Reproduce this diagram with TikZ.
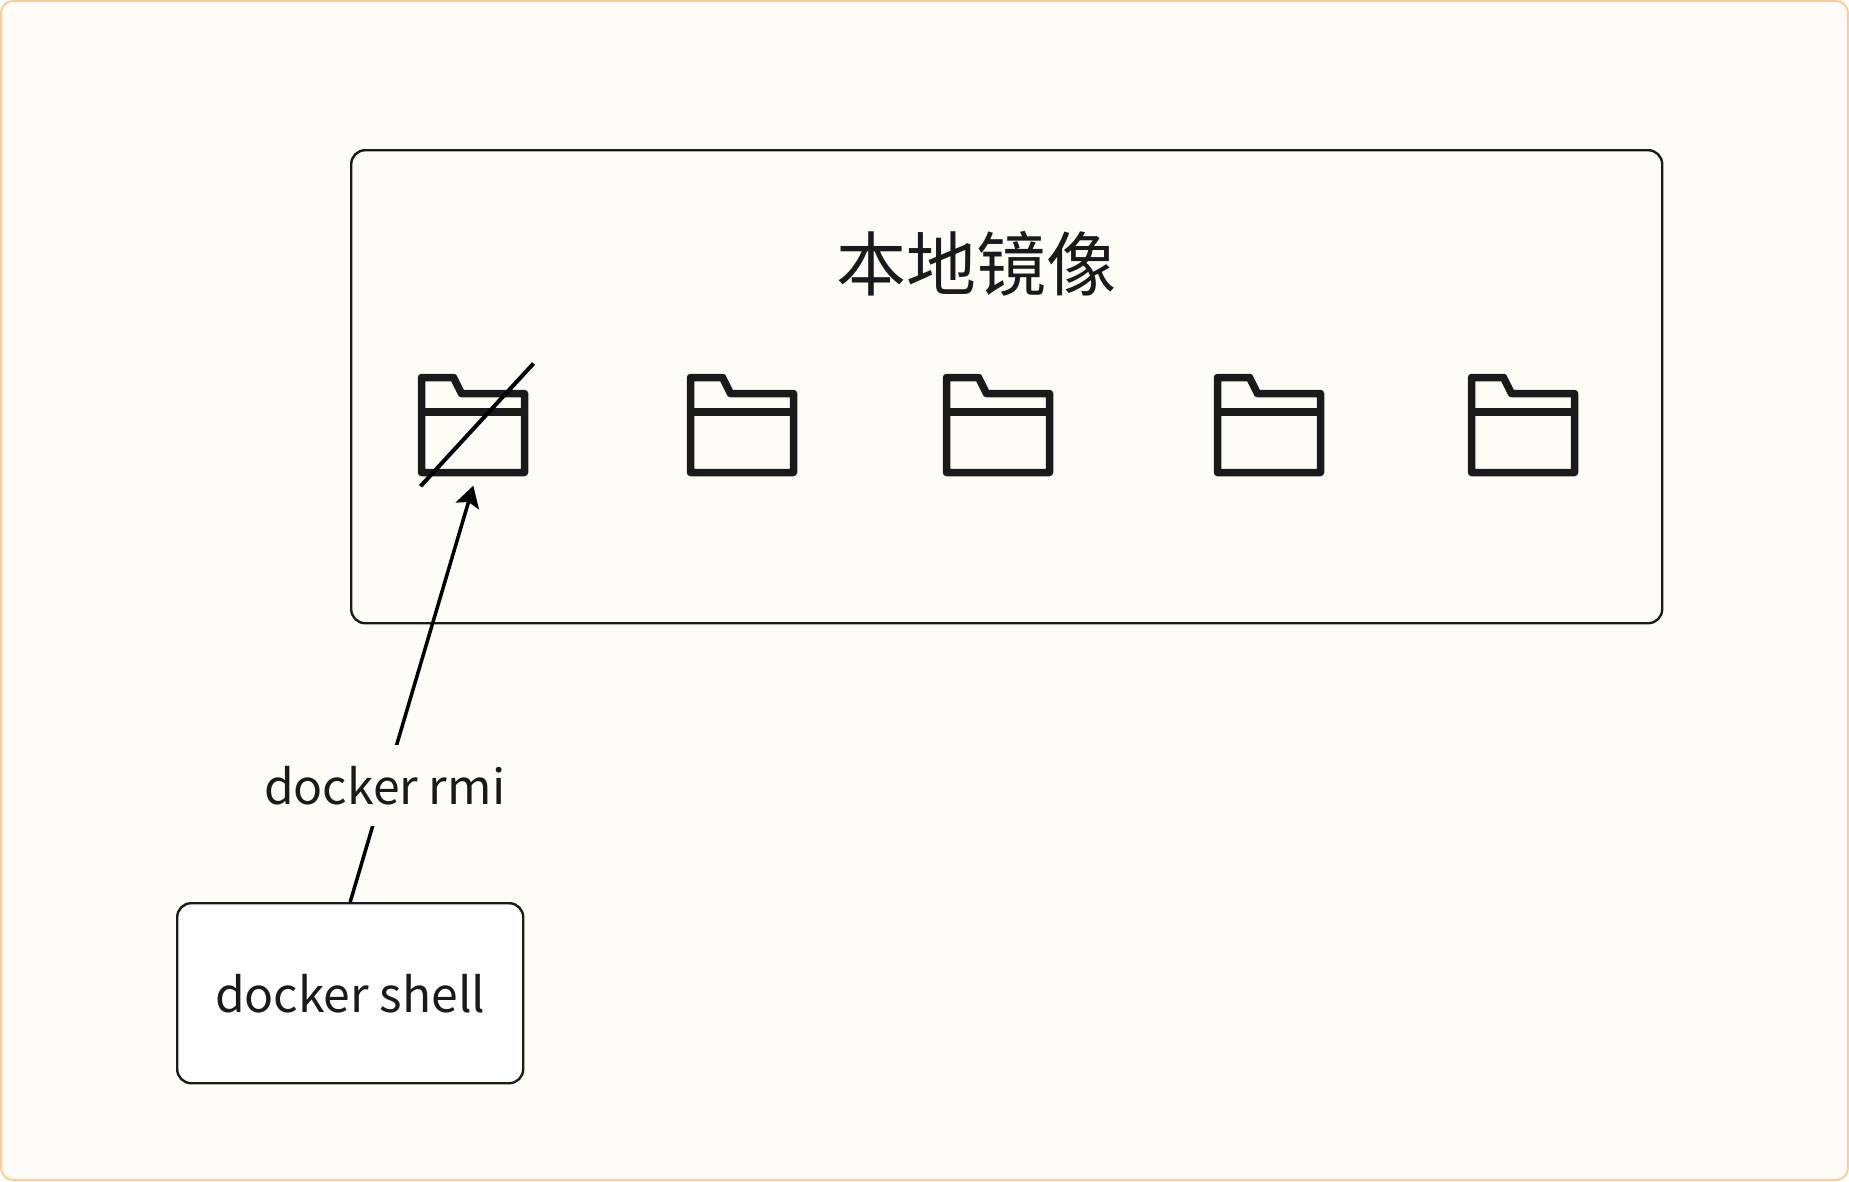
\documentclass[tikz,border=0pt]{standalone}
\usepackage{fontspec}
\setmainfont{Noto Sans CJK SC}
\usetikzlibrary{arrows.meta}
\definecolor{pagebg}{HTML}{FFFCF8}
\definecolor{pageedge}{HTML}{FFCC99}
\definecolor{ink}{HTML}{1A1A1A}
\tikzset{
  plainbox/.style={draw=ink,line width=2.4pt,rounded corners=14pt,inner sep=0pt,align=center,text=ink},
  folderslot/.style={minimum width=110pt,minimum height=102pt,inner sep=0pt,outer sep=0pt},
  folderline/.style={draw=ink,line width=7.5pt,line join=round},
  labelfont/.style={font=\fontsize{48}{48}\selectfont}
}
\begin{document}
\begin{tikzpicture}[x=1pt,y=-1pt]
\useasboundingbox (0,0) rectangle (1849,1181);
\draw[fill=pagebg,draw=pageedge,line width=2pt,rounded corners=12pt] (1,1) rectangle (1848,1180);
\node[plainbox,minimum width=1311pt,minimum height=473pt,anchor=north west] (local) at (350,149) {};
\node[text=ink,font=\fontsize{70}{70}\selectfont,inner sep=0pt] (title) at (976,263.5) {本地镜像};
\foreach \n/\x in {1/473,2/742,3/998,4/1269,5/1523}{
  \node[folderslot] (f\n) at (\x,425) {};
  \draw[folderline] ([shift={(-51.5,-47.5)}]f\n.center) -- ++(32,0) -- ++(8,16) -- ++(63,0) -- ++(0,79) -- ++(-103,0) -- cycle;
  \draw[draw=ink,line width=7.5pt] ([shift={(-51.5,-13)}]f\n.center) -- ++(103,0);
}
\coordinate (crossa) at (420.5,486.3);
\coordinate (crossb) at (533.5,363.5);
\draw[black,line width=4pt] (crossa) -- (crossb);
\node[plainbox,fill=white,minimum width=346pt,minimum height=180pt,anchor=north west,labelfont] (shell) at (176,902) {docker shell};
\coordinate (tip) at (473.3,485.7);
\draw[black,line width=3.5pt,-{Stealth[length=21pt,width=24pt,inset=4pt]}] (shell.north) -- node[pos=0.28,fill=pagebg,inner sep=0pt,minimum width=250pt,minimum height=81pt,text=ink,labelfont] (rmi) {docker rmi} (tip);
\end{tikzpicture}
\end{document}
